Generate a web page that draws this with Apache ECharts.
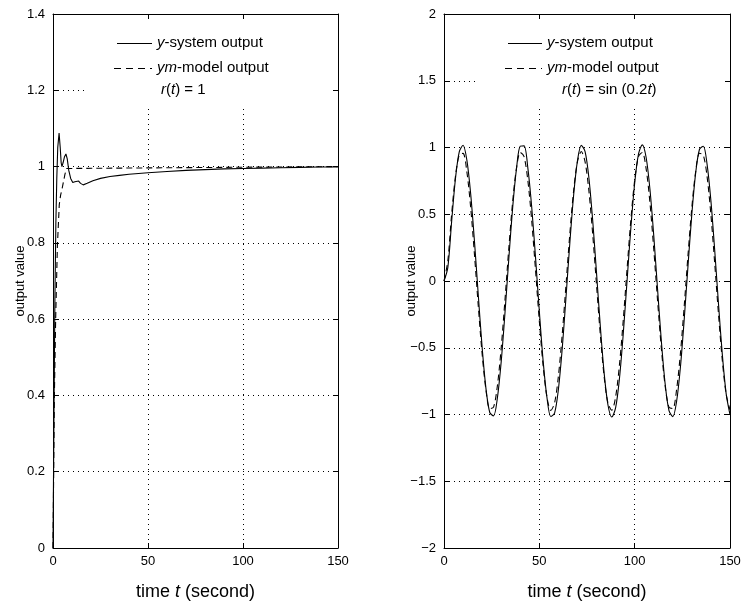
<!DOCTYPE html>
<html>
<head>
<meta charset="utf-8">
<script src="https://cdn.jsdelivr.net/npm/echarts@6/dist/echarts.min.js"></script>
<style>
html,body{margin:0;padding:0;background:#fff;}
#chart{width:746px;height:612px;}
</style>
</head>
<body>
<div id="chart"></div>
<script>
// ---- data ----
// Left panel: r(t) = 1
const leftSysT = [0, 0.5, 1, 1.5, 2, 2.5, 3.2, 3.8, 4.3, 4.7, 5.3, 6, 6.8, 7.5, 8.3, 9.3, 10.4, 11.5, 12.5, 13.5, 14.5, 15.9, 18, 21, 25, 30, 35, 40, 50, 60, 70, 80, 90, 100, 110, 120, 130, 140, 150];
const leftSysY = [0, 0.35, 0.65, 0.85, 0.97, 1.05, 1.088, 1.05, 1.01, 1.0, 1.01, 1.025, 1.033, 1.02, 0.99, 0.969, 0.958, 0.96, 0.963, 0.962, 0.956, 0.952, 0.956, 0.963, 0.969, 0.974, 0.977, 0.98, 0.984, 0.987, 0.99, 0.992, 0.994, 0.995, 0.996, 0.997, 0.998, 0.999, 0.999];
const leftModT = [0, 0.7, 1.4, 2.3, 3.3, 4, 4.7, 5.5, 6.3, 7.2, 8, 150];
const leftModY = [0, 0.39, 0.6, 0.79, 0.9, 0.925, 0.94, 0.96, 0.98, 0.995, 1.0, 1.0];

// Right panel: r(t) = sin(0.2t)
const rightT = [0, 2, 4, 6, 8, 10, 12, 14, 16, 18, 20, 22, 24, 26, 28, 30, 32, 34, 36, 38, 40, 42, 44, 46, 48, 50, 52, 54, 56, 58, 60, 62, 64, 66, 68, 70, 72, 74, 76, 78, 80, 82, 84, 86, 88, 90, 92, 94, 96, 98, 100, 102, 104, 106, 108, 110, 112, 114, 116, 118, 120, 122, 124, 126, 128, 130, 132, 134, 136, 138, 140, 142, 144, 146, 148, 150];
const rightSysY = [0, 0.10, 0.444, 0.766, 0.968, 1.017, 0.905, 0.651, 0.293, -0.110, -0.497, -0.804, -0.985, -1.010, -0.876, -0.604, -0.235, 0.169, 0.548, 0.840, 1.010, 1.012, 0.844, 0.554, 0.177, -0.227, -0.600, -0.873, -1.015, -0.990, -0.812, -0.508, -0.118, 0.285, 0.644, 0.901, 1.016, 0.970, 0.772, 0.451, 0.059, -0.342, -0.691, -0.929, -1.019, -0.950, -0.733, -0.398, 0.000, 0.398, 0.732, 0.951, 1.020, 0.927, 0.689, 0.342, -0.060, -0.451, -0.772, -0.971, -1.016, -0.901, -0.644, -0.285, 0.119, 0.504, 0.810, 0.987, 1.009, 0.872, 0.598, 0.227, -0.178, -0.555, -0.845, -1.001];
const rightModY = [0, 0.15, 0.499, 0.783, 0.944, 0.956, 0.817, 0.549, 0.194, -0.191, -0.546, -0.815, -0.956, -0.945, -0.785, -0.501, -0.138, 0.246, 0.592, 0.844, 0.964, 0.931, 0.750, 0.452, 0.082, -0.301, -0.636, -0.871, -0.969, -0.913, -0.713, -0.401, -0.026, 0.354, 0.678, 0.894, 0.970, 0.892, 0.674, 0.349, -0.031, -0.406, -0.717, -0.915, -0.968, -0.869, -0.632, -0.296, 0.088, 0.457, 0.754, 0.932, 0.963, 0.842, 0.588, 0.241, -0.144, -0.506, -0.788, -0.946, -0.955, -0.812, -0.542, -0.186, 0.200, 0.553, 0.820, 0.957, 0.943, 0.780, 0.494, 0.130, -0.255, -0.599, -0.849, -0.965];

const xTicks = {min: 0, max: 150, interval: 50};
const leftYTicks = {min: 0, max: 1.4, interval: 0.2};
const rightYTicks = {min: -2, max: 2, interval: 0.5};
const seriesNames = ['y-system output', 'ym-model output'];
const yTitle = 'output value';

// ---- helpers ----
const zip = (a, b) => a.map((v, i) => [v, b[i]]);
const FONT = '"Liberation Sans", Arial, Helvetica, sans-serif';
const fmt = v => String(+(+v).toFixed(2)).replace('-', '\u2212');
const gridDot = {show: true, lineStyle: {color: '#000', width: 1, type: [1, 4]}};

function mainX(gi) {
  return {
    type: 'value', gridIndex: gi, position: 'bottom', z: 0,
    min: xTicks.min, max: xTicks.max, interval: xTicks.interval,
    axisLine: {show: true, onZero: false, lineStyle: {color: '#000', width: 1}},
    axisTick: {show: true, inside: true, length: 5, lineStyle: {color: '#000'}},
    axisLabel: {show: true, margin: 7, color: '#000', fontSize: 13, fontFamily: FONT, formatter: fmt},
    splitLine: gridDot,
    name: '{n|time }{i|t}{n| (second)}', nameLocation: 'middle', nameGap: 35, nameMoveOverlap: false,
    nameTextStyle: {rich: {
      n: {fontSize: 18, fontFamily: FONT, color: '#000'},
      i: {fontSize: 18, fontFamily: FONT, fontStyle: 'italic', color: '#000'}
    }}
  };
}
function boxX(gi) {
  return {
    type: 'value', gridIndex: gi, position: 'top', z: 3,
    min: xTicks.min, max: xTicks.max, interval: xTicks.interval,
    axisLine: {show: true, onZero: false, lineStyle: {color: '#000', width: 1}},
    axisTick: {show: true, inside: true, length: 5, lineStyle: {color: '#000'}},
    axisLabel: {show: false}, splitLine: {show: false}
  };
}
function mainY(gi, t) {
  return {
    type: 'value', gridIndex: gi, position: 'left', z: 0,
    min: t.min, max: t.max, interval: t.interval,
    axisLine: {show: true, onZero: false, lineStyle: {color: '#000', width: 1}},
    axisTick: {show: true, inside: true, length: 5, lineStyle: {color: '#000'}},
    axisLabel: {show: true, margin: 8, color: '#000', fontSize: 13, fontFamily: FONT, formatter: fmt},
    splitLine: gridDot,
    name: yTitle, nameLocation: 'middle', nameGap: 26, nameMoveOverlap: false,
    nameTextStyle: {fontSize: 13, fontFamily: FONT, color: '#000'}
  };
}
function boxY(gi, t) {
  return {
    type: 'value', gridIndex: gi, position: 'right', z: 3,
    min: t.min, max: t.max, interval: t.interval,
    axisLine: {show: true, onZero: false, lineStyle: {color: '#000', width: 1}},
    axisTick: {show: true, inside: true, length: 5, lineStyle: {color: '#000'}},
    axisLabel: {show: false}, splitLine: {show: false}
  };
}
function line(name, data, xi, yi, dashed, smooth) {
  return {
    name: name, type: 'line', xAxisIndex: xi, yAxisIndex: yi,
    data: data, symbol: 'none', smooth: smooth, z: 4,
    lineStyle: {color: '#000', width: 1.1, type: dashed ? [6, 4] : 'solid'},
    animation: false
  };
}

const rich = {
  n: {fontSize: 15, fontFamily: FONT, color: '#000'},
  i: {fontSize: 15, fontFamily: FONT, fontStyle: 'italic', color: '#000'}
};
function legend(boxX0, boxW, lineX, textX, rX, rText) {
  return [
    {type: 'rect', z: 1, silent: true, shape: {x: boxX0, y: 15, width: boxW, height: 91}, style: {fill: '#fff'}},
    {type: 'line', z: 5, shape: {x1: lineX + 3, y1: 43.5, x2: textX - 5, y2: 43.5}, style: {stroke: '#000', lineWidth: 1}},
    {type: 'text', z: 5, x: textX, y: 43, style: {text: '{i|y}{n|-system output}', rich: rich, verticalAlign: 'middle', fill: '#000'}},
    {type: 'line', z: 5, shape: {x1: lineX, y1: 68.5, x2: textX - 5, y2: 68.5}, style: {stroke: '#000', lineWidth: 1, lineDash: [7, 5]}},
    {type: 'text', z: 5, x: textX, y: 68, style: {text: '{i|ym}{n|-model output}', rich: rich, verticalAlign: 'middle', fill: '#000'}},
    {type: 'text', z: 5, x: rX, y: 90, style: {text: rText, rich: rich, verticalAlign: 'middle', fill: '#000'}}
  ];
}

const chart = echarts.init(document.getElementById('chart'), null, {renderer: 'canvas'});
chart.setOption({
  animation: false,
  backgroundColor: '#fff',
  grid: [
    {left: 53, top: 14, width: 285, height: 534},
    {left: 444, top: 14, width: 286, height: 534}
  ],
  xAxis: [mainX(0), boxX(0), mainX(1), boxX(1)],
  yAxis: [mainY(0, leftYTicks), boxY(0, leftYTicks), mainY(1, rightYTicks), boxY(1, rightYTicks)],
  series: [
    line(seriesNames[1], zip(leftModT, leftModY), 0, 0, true, false),
    line(seriesNames[0], zip(leftSysT, leftSysY), 0, 0, false, false),
    line(seriesNames[1], zip(rightT, rightModY), 2, 2, true, 0.3),
    line(seriesNames[0], zip(rightT, rightSysY), 2, 2, false, 0.3)
  ],
  graphic: [].concat(
    legend(88, 249, 114, 157, 161, '{i|r}{n|(}{i|t}{n|) = 1}'),
    legend(476, 253, 505, 547, 562, '{i|r}{n|(}{i|t}{n|) = sin (0.2}{i|t}{n|)}')
  )
});
</script>
</body>
</html>
